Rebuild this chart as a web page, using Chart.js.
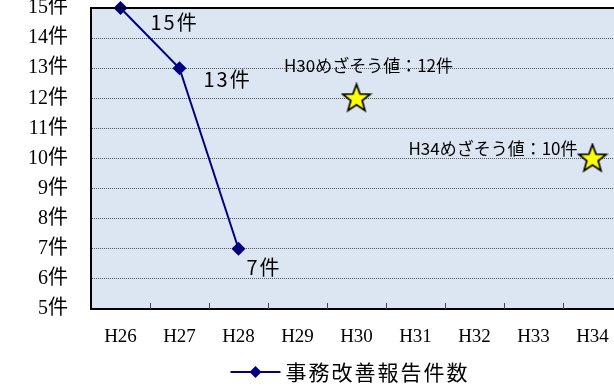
<!DOCTYPE html>
<html>
<head>
<meta charset="utf-8">
<script src="https://cdn.jsdelivr.net/npm/chart.js@4.4.1/dist/chart.umd.min.js"></script>
<style>
  body { margin: 0; background: #fff; }
  #wrap { width: 614px; height: 389px; overflow: hidden; position: relative; }
  canvas { display: block; }
</style>
</head>
<body>
<div id="wrap"><canvas id="myChart" width="700" height="389"></canvas></div>
<script>
// data
var categories = ['H26', 'H27', 'H28', 'H29', 'H30', 'H31', 'H32', 'H33', 'H34'];
var actualCounts = [15, 13, 7, null, null, null, null, null, null];
var targetCounts = [null, null, null, null, 12, null, null, null, 10];
var yMin = 5, yMax = 15;
var seriesName = '事務改善報告件数';
var unit = '件';

var SANS = '"Noto Sans CJK JP", "Noto Sans", sans-serif';
var SERIF = '"Liberation Serif", "DejaVu Serif", "Noto Sans CJK JP", serif';
var NAVY = '#000080';

// yellow star used as point style
function makeStar() {
  var c = document.createElement('canvas');
  c.width = 32; c.height = 32;
  var g = c.getContext('2d');
  var cx = 16, cy = 16.5, R = 14.5, r = 6;
  g.beginPath();
  for (var i = 0; i < 10; i++) {
    var rad = (i % 2 === 0) ? R : r;
    var a = -Math.PI / 2 + i * Math.PI / 5;
    var px = cx + rad * Math.cos(a), py = cy + rad * Math.sin(a);
    if (i === 0) g.moveTo(px, py); else g.lineTo(px, py);
  }
  g.closePath();
  g.fillStyle = '#FFFF00';
  g.fill();
  g.lineWidth = 1.7;
  g.lineJoin = 'miter';
  g.strokeStyle = '#000';
  g.stroke();
  return c;
}
var star = makeStar();

// label placement next to points
var valueLabelOffsets = [[30, 14], [24, 11], [8, 19]];
var targetLabelPlace = { 4: { align: 'center', dx: 12, dy: -33 }, 8: { align: 'right', dx: -15, dy: -10 } };

var decor = {
  id: 'decor',
  beforeDraw: function (chart) {
    var a = chart.chartArea, ctx = chart.ctx;
    ctx.save();
    ctx.fillStyle = '#DCE6F2';
    ctx.fillRect(a.left, a.top, a.right - a.left, a.bottom - a.top);
    ctx.restore();
  },
  afterDatasetsDraw: function (chart) {
    var a = chart.chartArea, ctx = chart.ctx;
    var xs = chart.scales.x;
    ctx.save();
    // top border
    ctx.strokeStyle = '#000';
    ctx.lineWidth = 2;
    ctx.beginPath();
    ctx.moveTo(a.left - 1, a.top);
    ctx.lineTo(a.right, a.top);
    ctx.stroke();
    // inner tick marks between categories
    ctx.strokeStyle = '#444';
    ctx.lineWidth = 1;
    for (var i = 0; i < categories.length - 1; i++) {
      var bx = Math.round((xs.getPixelForValue(i) + xs.getPixelForValue(i + 1)) / 2) + 0.5;
      ctx.beginPath();
      ctx.moveTo(bx, a.bottom);
      ctx.lineTo(bx, a.bottom - 6);
      ctx.stroke();
    }
    // value labels on the line
    ctx.fillStyle = '#000';
    ctx.textBaseline = 'middle';
    ctx.textAlign = 'left';
    ctx.font = '20px ' + SANS;
    ctx.letterSpacing = '2px';
    var m0 = chart.getDatasetMeta(0);
    actualCounts.forEach(function (v, i) {
      if (v === null) return;
      var p = m0.data[i];
      var off = valueLabelOffsets[i] || [10, 15];
      ctx.fillText(v + unit, p.x + off[0], p.y + off[1]);
    });
    // target labels
    ctx.font = '17px ' + SANS;
    ctx.letterSpacing = '0px';
    var m1 = chart.getDatasetMeta(1);
    targetCounts.forEach(function (v, i) {
      if (v === null) return;
      var p = m1.data[i];
      var pl = targetLabelPlace[i] || { align: 'center', dx: 0, dy: -25 };
      ctx.textAlign = pl.align;
      ctx.fillText(categories[i] + 'めざそう値：' + v + unit, p.x + pl.dx, p.y + pl.dy);
    });
    // legend
    var ly = 372;
    ctx.font = '21px ' + SANS;
    ctx.letterSpacing = '2px';
    var tw = ctx.measureText(seriesName).width;
    var total = 50 + 5 + tw;
    var sx = chart.width / 2 - total / 2;
    ctx.strokeStyle = NAVY;
    ctx.lineWidth = 2;
    ctx.beginPath();
    ctx.moveTo(sx, ly);
    ctx.lineTo(sx + 50, ly);
    ctx.stroke();
    ctx.fillStyle = NAVY;
    ctx.beginPath();
    ctx.moveTo(sx + 25, ly - 6);
    ctx.lineTo(sx + 31, ly);
    ctx.lineTo(sx + 25, ly + 6);
    ctx.lineTo(sx + 19, ly);
    ctx.closePath();
    ctx.fill();
    ctx.fillStyle = '#000';
    ctx.textAlign = 'left';
    ctx.fillText(seriesName, sx + 55, ly);
    ctx.restore();
  }
};

var ctx = document.getElementById('myChart').getContext('2d');
var chart = new Chart(ctx, {
  type: 'line',
  data: {
    labels: categories,
    datasets: [{
      label: seriesName,
      data: actualCounts,
      borderColor: NAVY,
      backgroundColor: NAVY,
      borderWidth: 2,
      pointStyle: 'rectRot',
      pointRadius: 7,
      pointBackgroundColor: NAVY,
      pointBorderColor: NAVY,
      pointBorderWidth: 0,
      spanGaps: false,
      clip: false,
      tension: 0
    }, {
      label: 'めざそう値',
      data: targetCounts,
      showLine: false,
      pointStyle: star,
      clip: false
    }]
  },
  options: {
    responsive: false,
    animation: false,
    layout: { padding: { left: 0, right: 78, top: 8, bottom: 30 } },
    plugins: {
      legend: { display: false },
      tooltip: { enabled: false }
    },
    scales: {
      x: {
        offset: true,
        grid: { display: false, drawTicks: false },
        border: { display: true, color: '#000', width: 2 },
        ticks: { color: '#000', padding: 17, font: { family: SERIF, size: 19 }, maxRotation: 0, autoSkip: false },
        afterFit: function (s) { s.height = 50; s.paddingLeft = 0; s.paddingRight = 0; }
      },
      y: {
        min: yMin,
        max: yMax,
        ticks: {
          stepSize: 1,
          color: '#000',
          padding: 23,
          font: { family: SERIF, size: 20 },
          callback: function (v) { return v + unit; }
        },
        grid: { color: '#555', lineWidth: 1, drawTicks: false },
        border: { display: true, color: '#000', width: 2, dash: [1, 1] },
        afterFit: function (s) { s.width = 91; s.paddingTop = 0; s.paddingBottom = 0; }
      }
    }
  },
  plugins: [decor]
});
</script>
</body>
</html>
